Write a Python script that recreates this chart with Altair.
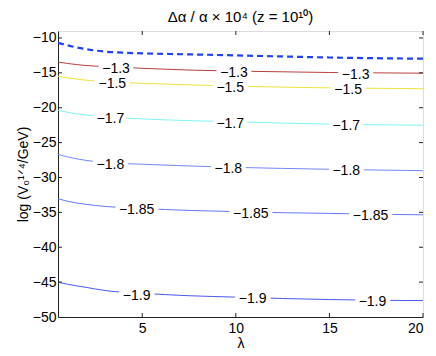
import altair as alt
import pandas as pd

# ---- data ----
lam = [0.5, 1, 2, 3, 5, 7.5, 10, 12.5, 15, 17.5, 20]
dashed_y = [-10.7, -11.05, -11.6, -11.95, -12.2, -12.35, -12.5, -12.65, -12.8, -12.9, -12.97]

levels = [-1.3, -1.5, -1.7, -1.8, -1.85, -1.9]
level_y = {
    -1.3:  [-13.45, -13.65, -13.95, -14.1, -14.35, -14.6, -14.75, -14.85, -14.95, -15.0, -15.05],
    -1.5:  [-15.5, -15.7, -16.05, -16.25, -16.5, -16.72, -16.9, -17.05, -17.15, -17.22, -17.27],
    -1.7:  [-20.35, -20.65, -21.05, -21.3, -21.6, -21.85, -22.02, -22.2, -22.35, -22.45, -22.5],
    -1.8:  [-26.7, -27.05, -27.55, -27.85, -28.1, -28.35, -28.55, -28.7, -28.82, -28.93, -29.02],
    -1.85: [-33.05, -33.4, -33.85, -34.15, -34.45, -34.72, -34.9, -35.05, -35.15, -35.27, -35.35],
    -1.9:  [-45.0, -45.3, -45.75, -46.2, -46.6, -46.95, -47.15, -47.35, -47.5, -47.6, -47.65],
}
level_colors = ["#b8403c", "#f0e43c", "#80f4f4", "#7488ff", "#6478ff", "#4858f0"]

label_level = [-1.3, -1.3, -1.3, -1.5, -1.5, -1.5, -1.7, -1.7, -1.7,
               -1.8, -1.8, -1.8, -1.85, -1.85, -1.85, -1.9, -1.9, -1.9]
label_lam = [3.6, 9.9, 16.4, 3.4, 9.7, 16.0, 3.3, 9.7, 15.9,
             3.3, 9.6, 15.9, 4.7, 10.8, 17.2, 4.7, 10.9, 17.3]
label_y = [-14.2, -14.75, -15.0, -16.3, -16.9, -17.2, -21.35, -22.0, -22.38,
           -27.9, -28.5, -28.85, -34.4, -34.95, -35.25, -46.65, -47.2, -47.6]

x_ticks = [5, 10, 15, 20]
y_ticks = [-10, -15, -20, -25, -30, -35, -40, -45, -50]

# ---- tables ----
rows = []
for lv in levels:
    for xv, yv in zip(lam, level_y[lv]):
        rows.append({"level": lv, "lam": xv, "y": yv})
df_lines = pd.DataFrame(rows)
df_dash = pd.DataFrame({"lam": lam, "y": dashed_y})
df_labels = pd.DataFrame({"level": label_level, "lam": label_lam, "y": label_y})
df_xt = pd.DataFrame({"lam": x_ticks})
df_yt = pd.DataFrame({"y": y_ticks[:-1]})

W, H = 365, 286
FONT = "Liberation Sans"

xscale = alt.Scale(domain=[0.5, 20], nice=False, zero=False)
yscale = alt.Scale(domain=[-50, -9], nice=False, zero=False)

x_axis = alt.Axis(values=x_ticks, title="λ", grid=False, tickSize=0,
                  labelPadding=4, titlePadding=1, labelFontSize=14,
                  titleFontSize=14, labelFont=FONT, titleFont=FONT,
                  titleFontWeight="normal", labelColor="black",
                  titleColor="black", domainColor="#222", labelOverlap=False)
y_axis = alt.Axis(values=y_ticks, title="log (V₀¹ᐟ⁴/GeV)", grid=False,
                  tickSize=0, labelPadding=2, titlePadding=2,
                  labelFontSize=14, titleFontSize=14, labelFont=FONT,
                  titleFont=FONT, titleFontWeight="normal",
                  labelColor="black", titleColor="black",
                  domainColor="#222", labelOverlap=False)

X = lambda f: alt.X(f, scale=xscale, axis=x_axis)
Y = lambda f: alt.Y(f, scale=yscale, axis=y_axis)

lines = alt.Chart(df_lines).mark_line(strokeWidth=1, interpolate="monotone").encode(
    x=X("lam:Q"), y=Y("y:Q"),
    color=alt.Color("level:N", scale=alt.Scale(domain=levels, range=level_colors), legend=None),
    detail="level:N",
)

dash = alt.Chart(df_dash).mark_line(strokeWidth=2.2, strokeDash=[6, 4], color="#2040ff",
                                    interpolate="monotone").encode(
    x=X("lam:Q"), y=Y("y:Q")
)

halo = alt.Chart(df_labels).mark_text(fontSize=14, font=FONT, color="white", stroke="white",
                                      strokeWidth=9, baseline="middle", dy=2).encode(
    x=X("lam:Q"), y=Y("y:Q"),
    text=alt.Text("level:Q", format=".3~g"),
)
labels = alt.Chart(df_labels).mark_text(fontSize=14, font=FONT, color="black",
                                        baseline="middle", dy=2).encode(
    x=X("lam:Q"), y=Y("y:Q"),
    text=alt.Text("level:Q", format=".3~g"),
)

tick_len = 4
xt_bot = alt.Chart(df_xt).mark_rule(color="#222").encode(
    x=X("lam:Q"), y=alt.value(H), y2=alt.value(H - tick_len))
xt_top = alt.Chart(df_xt).mark_rule(color="#222").encode(
    x=X("lam:Q"), y=alt.value(0), y2=alt.value(tick_len))
yt_left = alt.Chart(df_yt).mark_rule(color="#222").encode(
    y=Y("y:Q"), x=alt.value(0), x2=alt.value(tick_len))
yt_right = alt.Chart(df_yt).mark_rule(color="#222").encode(
    y=Y("y:Q"), x=alt.value(W), x2=alt.value(W - tick_len))

chart = alt.layer(lines, dash, halo, labels, xt_bot, xt_top, yt_left, yt_right).properties(
    width=W, height=H,
    title=alt.TitleParams("Δα / α × 10⁴ (z = 10¹⁰)", fontSize=15, font=FONT,
                          fontWeight="normal", color="black", offset=6),
    autosize=alt.AutoSizeParams(type="none"),
    padding={"left": 50, "top": 23, "right": 5, "bottom": 36},
).configure_view(stroke="#222", strokeWidth=1).configure(background="white")

chart.save("out.html", embed_options={"renderer": "svg", "actions": False})
